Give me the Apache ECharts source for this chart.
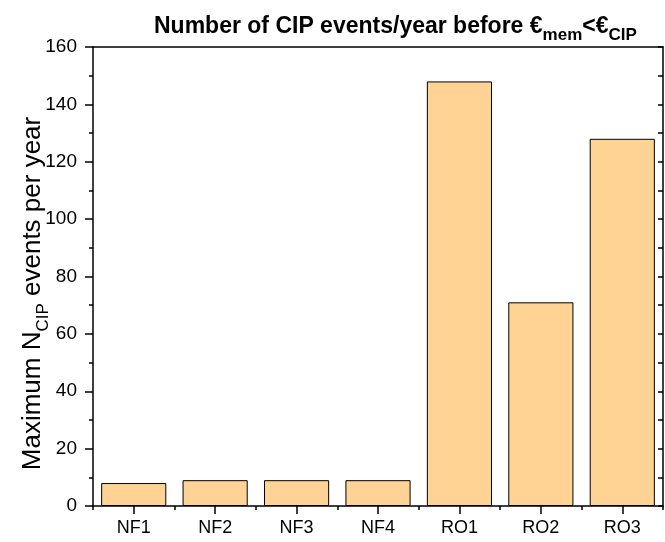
<!DOCTYPE html>
<html><head><meta charset="utf-8">
<script src="https://cdn.jsdelivr.net/npm/echarts@6/dist/echarts.min.js"></script>
<style>html,body{margin:0;padding:0;background:#fff}#c{width:665px;height:542px}</style>
</head><body><div id="c"></div>
<script>
const categories = ['NF1','NF2','NF3','NF4','RO1','RO2','RO3'];
const values = [8, 9, 9, 9, 148, 71, 128];
const yTicks = [0, 20, 40, 60, 80, 100, 120, 140, 160];

const F = 'Liberation Sans, Arial, sans-serif';
const chart = echarts.init(document.getElementById('c'));
chart.setOption({
  animation: false,
  backgroundColor: '#fff',
  title: {
    text: '{a|Number of CIP events/year before €}{s|mem}{a|<€}{s|CIP}',
    left: 149, top: 5,
    textStyle: {
      rich: {
        a: { fontFamily: F, fontWeight: 'bold', fontSize: 23, color: '#000', verticalAlign: 'bottom', lineHeight: 28 },
        s: { fontFamily: F, fontWeight: 'bold', fontSize: 17, color: '#000', verticalAlign: 'bottom', lineHeight: 18, padding: [0,0,-6,0] }
      }
    }
  },
  grid: { left: 93, right: 2, top: 47, bottom: 36, containLabel: false, outerBoundsMode: 'none' },
  xAxis: [
    {
      type: 'category', data: categories, position: 'bottom',
      axisLine: { show: true, lineStyle: { color: '#000', width: 1.5 } },
      axisTick: { show: true, alignWithLabel: true, length: 8, inside: false, lineStyle: { color: '#000', width: 1.5 } },
      axisLabel: { fontFamily: F, fontSize: 18, color: '#000', margin: 13 },
      splitLine: { show: false }
    },
    {
      type: 'category', data: categories, position: 'bottom',
      axisLine: { show: false },
      axisTick: { show: true, alignWithLabel: false, length: 4, lineStyle: { color: '#000', width: 1.5 } },
      axisLabel: { show: false }, splitLine: { show: false }
    },
    {
      type: 'category', data: categories, position: 'top',
      axisLine: { show: true, lineStyle: { color: '#000', width: 1.5 } },
      axisTick: { show: false }, axisLabel: { show: false }, splitLine: { show: false }
    }
  ],
  yAxis: [
    {
      type: 'value', min: 0, max: 160, interval: 20, position: 'left',
      name: '{a|Maximum N}{s|CIP}{a| events per year}',
      nameLocation: 'middle', nameGap: 47, nameRotate: 90, nameMoveOverlap: false,
      nameTextStyle: {
        padding: [0, 34, 0, 0],
        rich: {
          a: { fontFamily: F, fontSize: 26, color: '#000', verticalAlign: 'bottom', lineHeight: 30 },
          s: { fontFamily: F, fontSize: 17, color: '#000', verticalAlign: 'bottom', lineHeight: 18, padding: [0,0,-6,0] }
        }
      },
      axisLine: { show: true, lineStyle: { color: '#000', width: 1.5 } },
      axisTick: { show: true, length: 8, lineStyle: { color: '#000', width: 1.5 } },
      minorTick: { show: true, splitNumber: 2, length: 4, lineStyle: { color: '#000', width: 1.5 } },
      axisLabel: { fontFamily: F, fontSize: 19, color: '#000', margin: 16,
        formatter: v => yTicks.includes(v) ? String(v) : '' },
      splitLine: { show: false }
    },
    {
      type: 'value', min: 0, max: 160, interval: 10, position: 'right',
      axisLine: { show: true, lineStyle: { color: '#000', width: 1.5 } },
      axisTick: { show: true, inside: true, length: 5, lineStyle: { color: '#000', width: 1.5 } },
      axisLabel: { show: false }, splitLine: { show: false }
    }
  ],
  series: [{
    type: 'bar', data: values, xAxisIndex: 0, yAxisIndex: 0,
    barCategoryGap: '20%',
    itemStyle: { color: '#FFD393', borderColor: '#000', borderWidth: 1 }
  }]
});
</script></body></html>
